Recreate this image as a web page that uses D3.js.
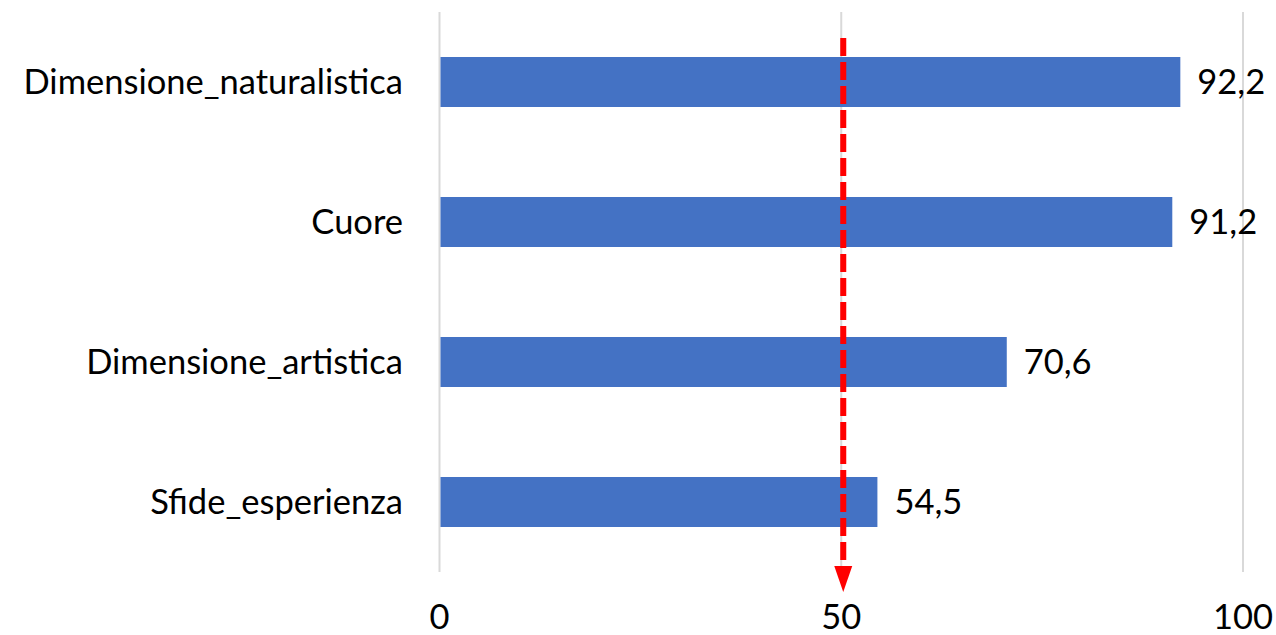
<!DOCTYPE html>
<html>
<head>
<meta charset="utf-8">
<script src="https://cdn.jsdelivr.net/npm/d3@7"></script>
<style>
  html, body { margin: 0; padding: 0; background: #fff; }
  svg { display: block; }
  text { font-family: Lato, "Open Sans", sans-serif; fill: #000; }
</style>
</head>
<body>
<svg id="chart" width="1276" height="635"></svg>
<script>
// Scores per dimension, top to bottom
const categories = ["Dimensione_naturalistica", "Cuore", "Dimensione_artistica", "Sfide_esperienza"];
const values = [92.2, 91.2, 70.6, 54.5];
const xTicks = [0, 50, 100];
const threshold = 50;

(function draw() {
  const svg = d3.select("#chart");
  const plotLeft = 439.5, plotRight = 1243, plotTop = 12, plotBottom = 572;
  const fontSize = 34.5;

  const x = d3.scaleLinear().domain([0, 100]).range([plotLeft, plotRight]);
  const y = d3.scaleBand().domain(categories).range([plotTop, plotBottom])
    .paddingInner(90 / 140).paddingOuter(45 / 140);

  // vertical gridlines
  svg.append("g").selectAll("line").data(xTicks).join("line")
    .attr("x1", d => x(d)).attr("x2", d => x(d))
    .attr("y1", plotTop).attr("y2", plotBottom)
    .attr("stroke", "#d9d9d9").attr("stroke-width", 2);

  // bars
  svg.append("g").selectAll("rect").data(categories).join("rect")
    .attr("x", x(0) + 1)
    .attr("y", d => y(d))
    .attr("width", (d, i) => x(values[i]) - x(0) - 1)
    .attr("height", y.bandwidth())
    .attr("fill", "#4472c4");

  // value labels
  svg.append("g").selectAll("text").data(categories).join("text")
    .attr("x", (d, i) => x(values[i]) + 17)
    .attr("y", d => y(d) + y.bandwidth() / 2)
    .attr("dy", "0.36em")
    .attr("font-size", fontSize)
    .text((d, i) => String(values[i]).replace(".", ","));

  // category labels
  svg.append("g").selectAll("text").data(categories).join("text")
    .attr("x", 403)
    .attr("y", d => y(d) + y.bandwidth() / 2)
    .attr("dy", "0.36em")
    .attr("text-anchor", "end")
    .attr("font-size", fontSize)
    .text(d => d);

  // x axis tick labels
  svg.append("g").selectAll("text").data(xTicks).join("text")
    .attr("x", d => x(d))
    .attr("y", 629)
    .attr("text-anchor", "middle")
    .attr("font-size", fontSize)
    .text(d => d);

  // threshold arrow
  const tx = x(threshold) + 2;
  svg.append("line")
    .attr("x1", tx).attr("x2", tx)
    .attr("y1", 38).attr("y2", 560)
    .attr("stroke", "#ff0000").attr("stroke-width", 6)
    .attr("stroke-dasharray", "18 6");
  svg.append("path")
    .attr("d", `M${tx - 9},566 L${tx + 9},566 L${tx},592 Z`)
    .attr("fill", "#ff0000");
})();
</script>
</body>
</html>
